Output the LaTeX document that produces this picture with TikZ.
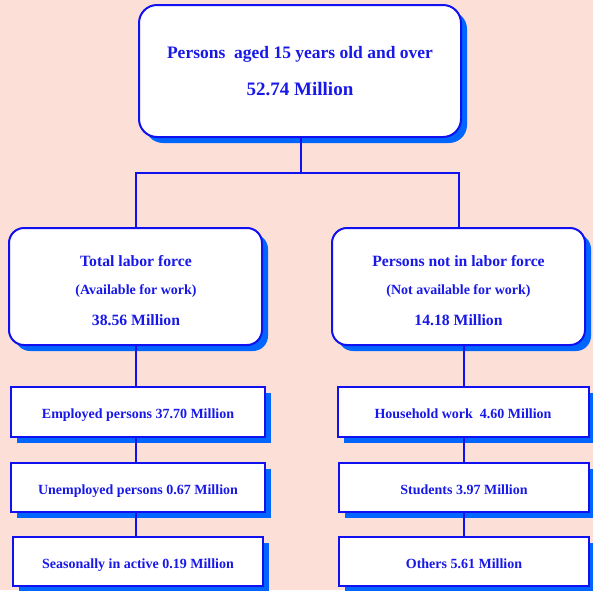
\documentclass[tikz,border=0pt]{standalone}
\usepackage{fontspec}
\setmainfont{Liberation Serif}
\usetikzlibrary{shadows}
\definecolor{bg}{RGB}{252,224,216}
\definecolor{bblue}{RGB}{16,16,240}
\definecolor{sblue}{RGB}{0,102,255}
\definecolor{tblue}{RGB}{24,24,232}
\begin{document}
\begin{tikzpicture}[x=1pt,y=-1pt,
  box/.style={draw=bblue, line width=2pt, fill=white, inner sep=0pt,
    drop shadow={shadow xshift=6pt, shadow yshift=-6pt, fill=sblue, opacity=1},
    text=tblue, font=\bfseries\fontsize{14}{16}\selectfont},
  rbox/.style={box, rounded corners=18pt},
  sbox/.style={box, minimum height=50pt, text height=13pt, text depth=0pt},
  txt/.style={text=tblue, inner sep=0pt},
  big/.style={font=\bfseries\fontsize{17.5}{20}\selectfont},
  huge/.style={font=\bfseries\fontsize{19}{22}\selectfont},
  mid/.style={font=\bfseries\fontsize{15.7}{18}\selectfont},
  small/.style={font=\bfseries\fontsize{14}{16}\selectfont},
  conn/.style={draw=bblue, line width=2pt}]
\useasboundingbox[fill=bg] (0,0) rectangle (593,590);

% top box
\node[rbox, minimum width=322pt, minimum height=132pt] (top) at (300,71) {};
\node[txt, big] (topa) at (300,54) {Persons\ \ aged 15 years old and over};
\node[txt, huge] (topb) at (300,89) {52.74 Million};

% middle boxes
\node[rbox, rounded corners=15pt, minimum width=253pt, minimum height=117pt] (ml) at (135.5,286.5) {};
\node[txt, mid] (mla) at (136,261) {Total labor force};
\node[txt, small] (mlb) at (136,291) {(Available for work)};
\node[txt, mid] (mlc) at (136,320) {38.56 Million};

\node[rbox, rounded corners=15pt, minimum width=253pt, minimum height=117pt] (mr) at (458.5,286.5) {};
\node[txt, mid] (mra) at (458.5,261) {Persons not in labor force};
\node[txt, small] (mrb) at (458.5,291) {(Not available for work)};
\node[txt, mid] (mrc) at (458.5,320) {14.18 Million};

% left column
\node[sbox, minimum width=254pt] (e1) at (138,412) {Employed persons 37.70 Million};
\node[sbox, minimum width=254pt, minimum height=49pt] (e2) at (138,487.5) {Unemployed persons 0.67 Million};
\node[sbox, minimum width=250pt, minimum height=49pt] (e3) at (138,561.5) {Seasonally in active 0.19 Million};

% right column
\node[sbox, minimum width=251pt] (h1) at (463,412) {Household work\ \ 4.60 Million};
\node[sbox, minimum width=250pt, minimum height=49pt] (h2) at (464,487.5) {Students 3.97 Million};
\node[sbox, minimum width=250pt, minimum height=49pt] (h3) at (464,561.5) {Others 5.61 Million};

% connectors
\coordinate (j) at (301,173);
\coordinate (jl) at (135.5,173);
\draw[conn] (top.south -| j) -- (j);
\draw[conn] (ml.north) -- (jl) -| (mr.north);
\draw[conn] (ml.south) -- (ml.south |- e1.north);
\draw[conn] (e1.south -| ml.south) -- (e2.north -| ml.south);
\draw[conn] (e2.south -| ml.south) -- (e3.north -| ml.south);
\draw[conn] (h2.north |- mr.south) -- (h2.north |- h1.north);
\draw[conn] (h2.north |- h1.south) -- (h2.north);
\draw[conn] (h2.south) -- (h3.north);
\end{tikzpicture}
\end{document}
